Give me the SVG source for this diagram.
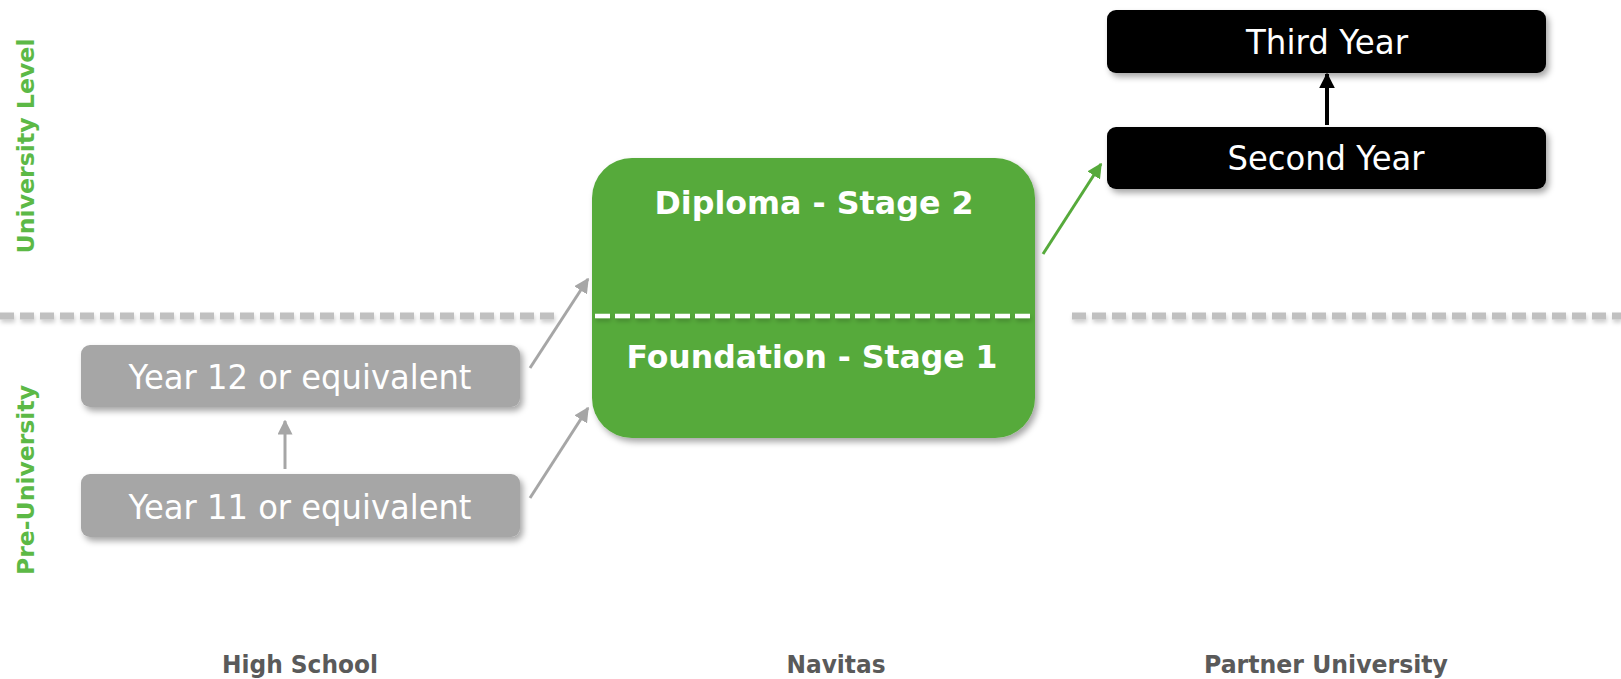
<svg xmlns="http://www.w3.org/2000/svg" width="1621" height="679" viewBox="0 0 1621 679">
<defs>
<filter id="sh" x="-10%" y="-10%" width="125%" height="135%">
<feDropShadow dx="3" dy="4" stdDeviation="3" flood-color="#000" flood-opacity="0.35"/>
</filter>
<filter id="lsh" filterUnits="userSpaceOnUse" x="0" y="280" width="1621" height="80">
<feDropShadow dx="1" dy="3" stdDeviation="2" flood-color="#000" flood-opacity="0.2"/>
</filter>
<marker id="ag" viewBox="0 0 10 10" refX="9" refY="5" markerWidth="5" markerHeight="5" orient="auto" markerUnits="strokeWidth">
<path d="M0,0 L10,5 L0,10 z" fill="#a6a6a6"/>
</marker>
<marker id="agr" viewBox="0 0 10 10" refX="9" refY="5" markerWidth="5" markerHeight="5" orient="auto" markerUnits="strokeWidth">
<path d="M0,0 L10,5 L0,10 z" fill="#56aa3b"/>
</marker>
<marker id="ab" viewBox="0 0 10 10" refX="9" refY="5" markerWidth="4" markerHeight="4.2" orient="auto" markerUnits="strokeWidth">
<path d="M0,0 L10,5 L0,10 z" fill="#000"/>
</marker>
</defs>
<style>
.t{font-family:"DejaVu Sans","Verdana",sans-serif;}
.nt{font-size:33px;fill:#fff;text-anchor:middle;}
.bt{font-size:32px;font-weight:bold;fill:#fff;text-anchor:middle;}
.side{font-size:23px;font-weight:bold;fill:#5cb946;text-anchor:middle;}
.col{font-size:24px;font-weight:bold;fill:#5a5a5a;text-anchor:middle;}
.gray{fill:#a6a6a6;}
.blk{fill:#000;}
.grn{fill:#56aa3b;}
</style>
<rect width="1621" height="679" fill="#fff"/>

<g id="level-divider" filter="url(#lsh)">
<line x1="0" y1="316" x2="556" y2="316" stroke="#c0c0c0" stroke-width="7" stroke-dasharray="14 6"/>
<line x1="1072" y1="316" x2="1621" y2="316" stroke="#c0c0c0" stroke-width="7" stroke-dasharray="14 6"/>
</g>

<g id="label-university-level"><text class="t side" transform="translate(34,146) rotate(-90)" textLength="215" lengthAdjust="spacingAndGlyphs">University Level</text></g>
<g id="label-pre-university"><text class="t side" transform="translate(34,480) rotate(-90)" textLength="190" lengthAdjust="spacingAndGlyphs">Pre-University</text></g>

<g id="navitas">
<rect class="grn" x="592" y="158" width="443" height="280" rx="40" filter="url(#sh)"/>
<line x1="595" y1="316" x2="1035" y2="316" stroke="#fff" stroke-width="4.5" stroke-dasharray="15 5" filter="url(#lsh)"/>
<text class="t bt" x="814" y="214" textLength="319" lengthAdjust="spacingAndGlyphs">Diploma - Stage 2</text>
<text class="t bt" x="812" y="368" textLength="371" lengthAdjust="spacingAndGlyphs">Foundation - Stage 1</text>
</g>

<g id="third-year">
<rect class="blk" x="1107" y="10" width="439" height="63" rx="9" filter="url(#sh)"/>
<text class="t nt" x="1327" y="54" textLength="162" lengthAdjust="spacingAndGlyphs">Third Year</text>
</g>
<g id="second-year">
<rect class="blk" x="1107" y="127" width="439" height="62" rx="9" filter="url(#sh)"/>
<text class="t nt" x="1326" y="170" textLength="197" lengthAdjust="spacingAndGlyphs">Second Year</text>
</g>

<g id="year-12">
<rect class="gray" x="81" y="345" width="439" height="62" rx="9" filter="url(#sh)"/>
<text class="t nt" x="300" y="389" textLength="343" lengthAdjust="spacingAndGlyphs">Year 12 or equivalent</text>
</g>
<g id="year-11">
<rect class="gray" x="81" y="474" width="439" height="63" rx="9" filter="url(#sh)"/>
<text class="t nt" x="300" y="519" textLength="343" lengthAdjust="spacingAndGlyphs">Year 11 or equivalent</text>
</g>

<g id="connectors" fill="none">
<line x1="530" y1="368" x2="588" y2="279" stroke="#a6a6a6" stroke-width="3" marker-end="url(#ag)"/>
<line x1="530" y1="498" x2="588" y2="408" stroke="#a6a6a6" stroke-width="3" marker-end="url(#ag)"/>
<line x1="285" y1="469" x2="285" y2="421" stroke="#a6a6a6" stroke-width="3" marker-end="url(#ag)"/>
<line x1="1043" y1="254" x2="1101" y2="164" stroke="#56aa3b" stroke-width="3" marker-end="url(#agr)"/>
<line x1="1327" y1="125" x2="1327" y2="74" stroke="#000" stroke-width="4" marker-end="url(#ab)"/>
</g>

<g id="column-labels">
<text class="t col" x="300" y="673" textLength="156" lengthAdjust="spacingAndGlyphs">High School</text>
<text class="t col" x="836" y="673" textLength="99" lengthAdjust="spacingAndGlyphs">Navitas</text>
<text class="t col" x="1326" y="673" textLength="244" lengthAdjust="spacingAndGlyphs">Partner University</text>
</g>
</svg>
